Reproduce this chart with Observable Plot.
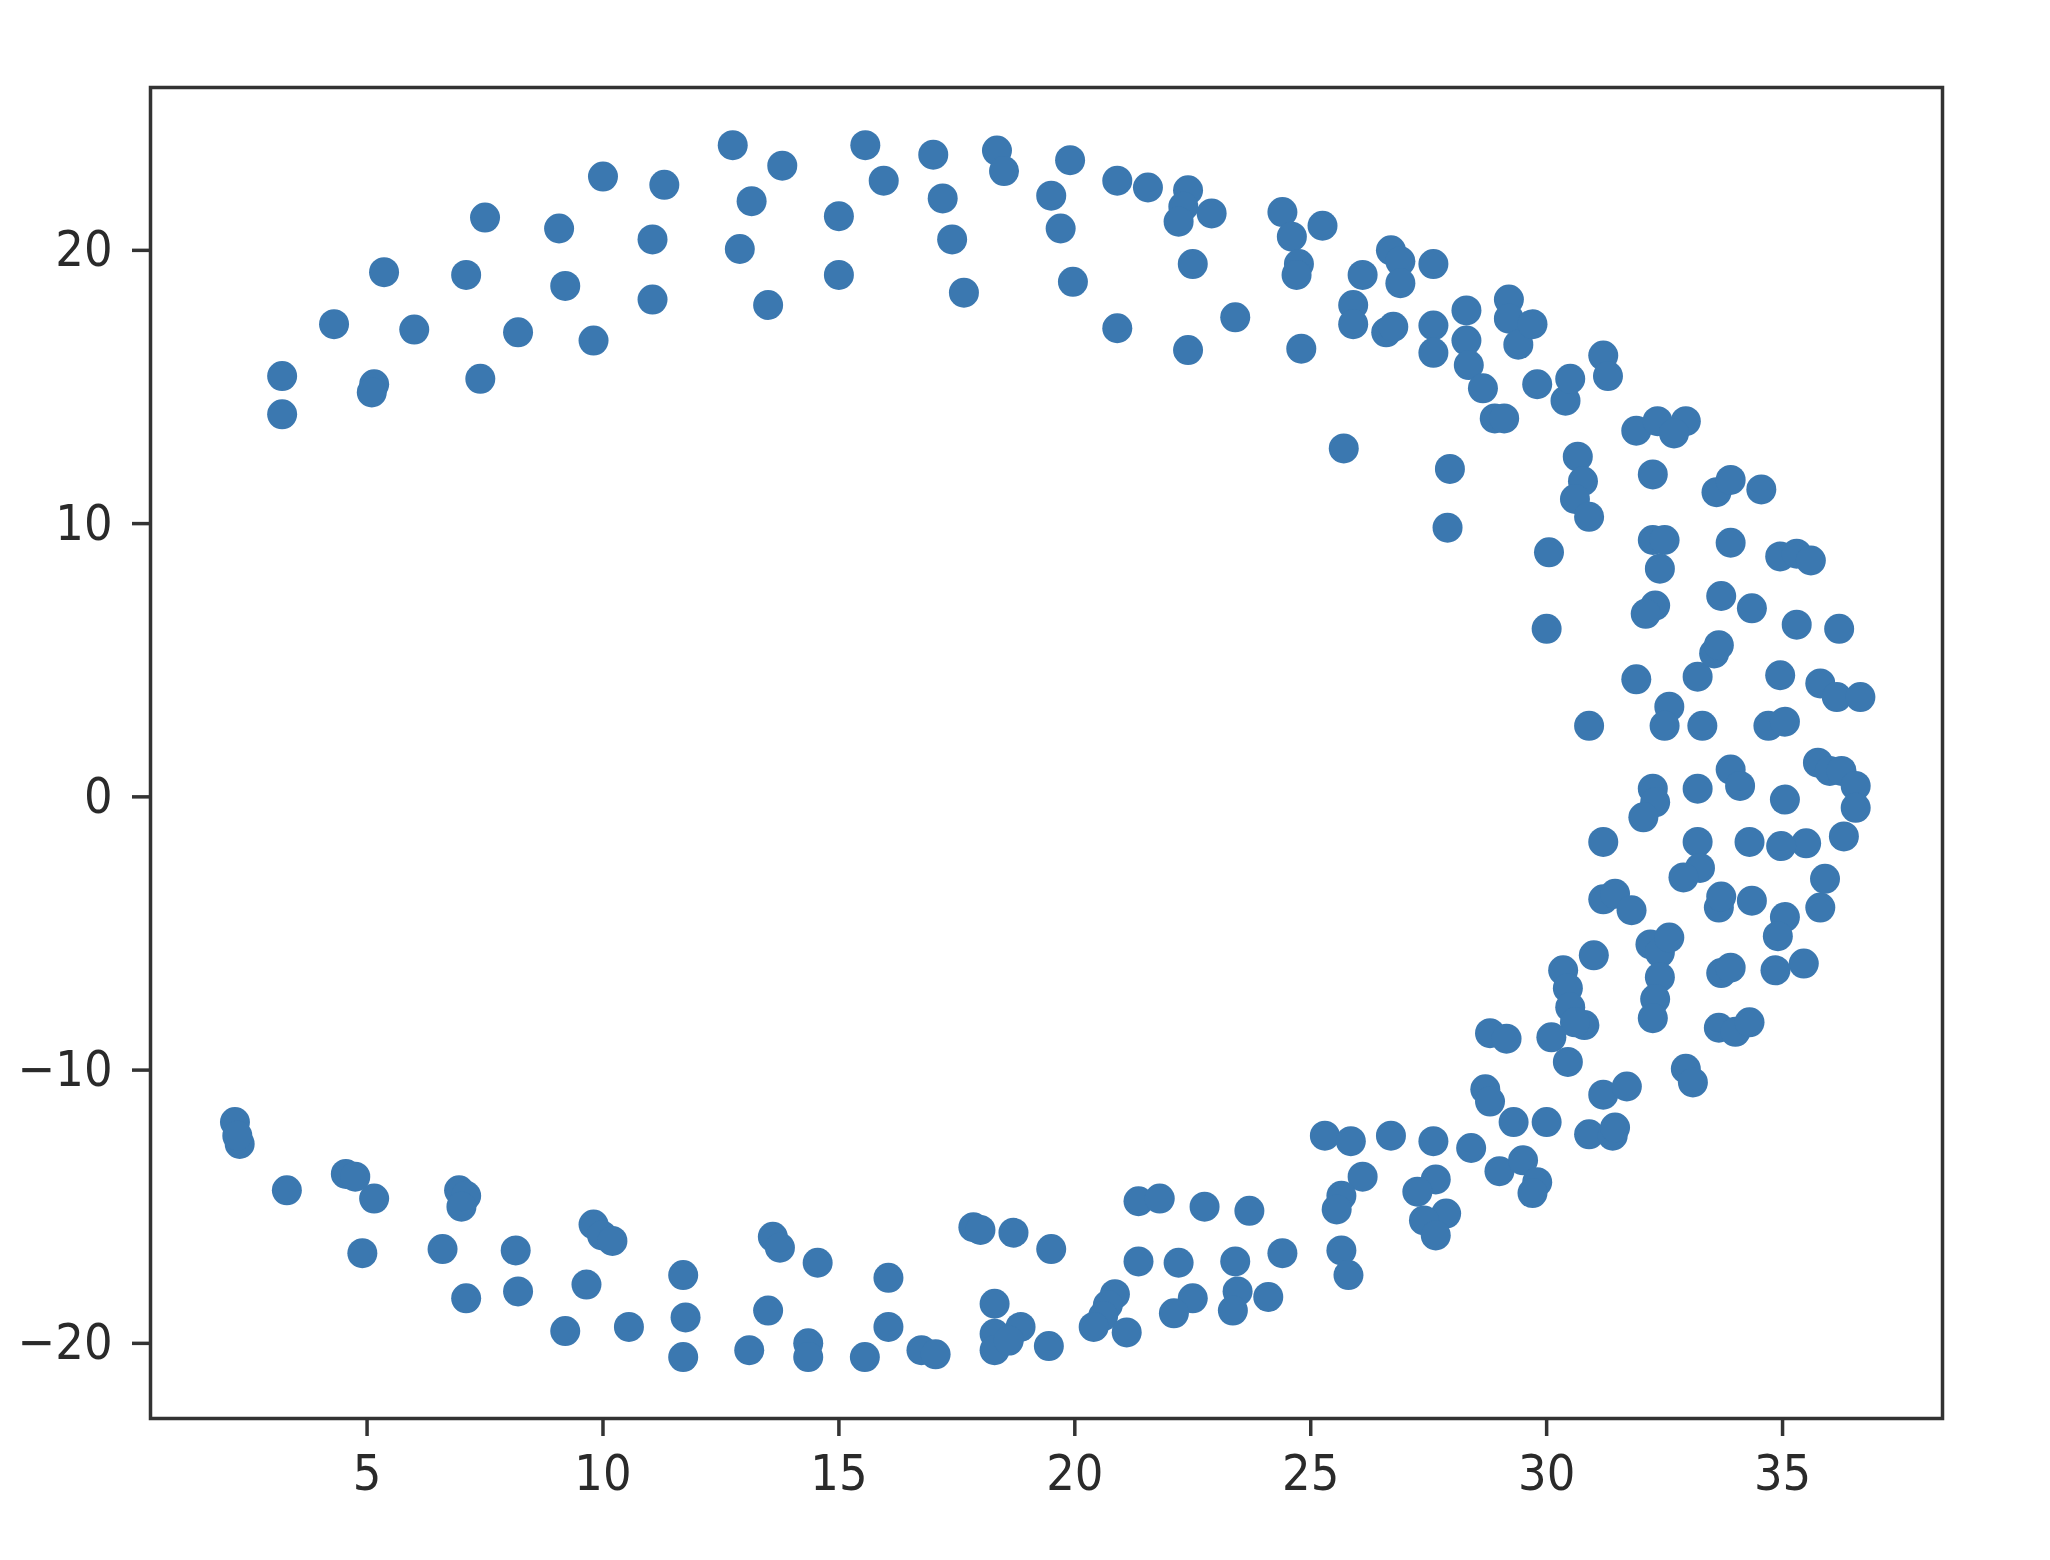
<!DOCTYPE html>
<html><head><meta charset="utf-8">
<script src="https://cdn.jsdelivr.net/npm/d3@7"></script>
<script src="https://cdn.jsdelivr.net/npm/@observablehq/plot@0.6"></script>
<style>html,body{margin:0;padding:0;background:#fff;overflow:hidden}
svg text{font-stretch:condensed}</style>
</head><body><div id="chart"></div>
<script>
// Upper arc
const upperX = [3.2,3.2,4.3,5.36,5.15,5.1,6.0,7.1,7.5,7.4,8.2,9.07,9.2,9.8,10.0,11.05,11.05,11.3,12.75,12.9,13.15,13.5,13.8,15.0,15.0,15.56,15.95,17.0,17.2,17.4,17.65,18.35,18.5,19.5,19.7,19.9,19.96,20.9,20.9,21.55,22.4,22.3,22.2,22.9,22.5,22.4,23.4,24.4,24.6,24.75,24.7,25.25,24.8,25.7,26.1,25.9,25.9,26.7,26.9,26.9,26.6,26.75,27.6,27.6,27.6,28.3,28.3,28.35,28.65,28.9,29.1,29.2,29.2,29.4,29.7,29.8,30.4,30.5,27.95,27.9,31.2,31.3];
const upperY = [15.4,14.0,17.3,19.2,15.1,14.8,17.1,19.1,21.2,15.3,17.0,20.8,18.7,16.7,22.7,20.4,18.2,22.4,23.85,20.05,21.8,18.0,23.1,21.25,19.1,23.85,22.55,23.5,21.9,20.4,18.45,23.65,22.9,22.0,20.8,23.3,18.85,22.55,17.15,22.3,22.2,21.6,21.05,21.35,19.5,16.35,17.55,21.4,20.5,19.5,19.1,20.9,16.4,12.75,19.1,18.0,17.3,20.0,19.6,18.8,17.0,17.2,19.5,17.25,16.25,17.8,16.7,15.8,14.95,13.85,13.85,18.2,17.5,16.55,17.3,15.1,14.5,15.3,12.0,9.85,16.15,15.4];

// Right band
const rightX = [30.05,30.0,30.66,30.77,30.6,30.9,30.9,31.9,32.35,32.95,32.7,32.25,32.25,32.5,32.4,32.3,32.1,31.9,32.6,32.5,33.3,33.2,33.55,33.65,33.7,33.9,33.6,33.9,34.55,34.35,34.95,35.3,35.6,35.3,36.2,34.95,35.8,36.15,36.65,34.7,35.05,35.05,35.75,36.0,36.25,36.55,36.55,36.3,35.5,34.97,34.3,33.9,34.1,33.2,32.25,32.3,32.05,31.2,33.2,33.25,32.9,31.2,31.45,31.8,33.65,33.7,34.35,35.8,35.9,35.05,34.9,35.45,34.85,31.0,32.2,32.4,32.6,32.4,32.3,32.25,33.7,33.9,33.65,34.0,34.3,30.35,30.45,30.5,30.8,30.6,30.1,30.45,28.8,29.15,28.7,28.8,29.3,30.0,31.2,31.7,30.9,31.4,31.45,32.95,33.1];
const rightY = [8.95,6.15,12.45,11.55,10.9,10.25,2.6,13.4,13.75,13.75,13.3,11.8,9.4,9.4,8.35,7.0,6.7,4.3,3.3,2.6,2.6,4.4,5.25,5.55,7.35,9.3,11.15,11.6,11.25,6.9,8.8,8.9,8.65,6.3,6.15,4.45,4.15,3.65,3.65,2.6,2.75,-0.1,1.25,0.95,0.95,0.4,-0.4,-1.45,-1.7,-1.8,-1.65,1.0,0.4,0.3,0.3,-0.2,-0.75,-1.65,-1.65,-2.6,-2.95,-3.75,-3.55,-4.15,-4.05,-3.65,-3.8,-4.05,-3.0,-4.4,-5.1,-6.1,-6.35,-5.8,-5.4,-5.7,-5.15,-6.6,-7.4,-8.1,-6.45,-6.25,-8.45,-8.6,-8.25,-6.35,-7.0,-7.7,-8.35,-8.25,-8.8,-9.7,-8.65,-8.85,-10.7,-11.15,-11.9,-11.9,-10.9,-10.6,-12.35,-12.4,-12.1,-9.95,-10.45];

// Lower arc
const lowerX = [25.3,25.85,26.7,27.6,28.4,29.0,29.5,29.8,29.7,26.1,25.65,25.55,27.65,27.26,27.87,27.4,27.65,25.65,25.8,24.4,24.1,23.45,23.35,23.7,22.75,23.4,22.2,22.5,22.1,21.35,21.8,21.35,20.85,20.7,20.6,20.4,21.1,19.5,18.7,17.85,18.0,18.3,18.3,18.3,18.85,18.6,19.45,16.75,17.05,16.05,16.05,15.55,14.55,14.35,14.35,13.6,13.75,13.5,13.1,11.7,11.75,11.7,10.55,9.8,9.98,10.2,9.65,9.2,8.15,8.2,7.1,6.6,6.95,7.1,7.0,5.15,4.55,4.75,4.9,3.3,2.2,2.3,2.25];
const lowerY = [-12.4,-12.6,-12.4,-12.6,-12.85,-13.7,-13.3,-14.1,-14.5,-13.9,-14.6,-15.1,-14.0,-14.45,-15.25,-15.5,-16.05,-16.6,-17.5,-16.7,-18.3,-18.1,-18.8,-15.15,-15.0,-17.0,-17.05,-18.35,-18.9,-14.8,-14.7,-17.0,-18.2,-18.6,-19.0,-19.4,-19.6,-16.55,-15.95,-15.75,-15.85,-18.55,-19.65,-20.25,-19.4,-19.9,-20.1,-20.25,-20.4,-19.4,-17.6,-20.5,-17.05,-20.0,-20.5,-16.1,-16.5,-18.8,-20.25,-17.5,-19.05,-20.5,-19.4,-15.65,-16.05,-16.25,-17.85,-19.55,-16.6,-18.1,-18.35,-16.55,-14.4,-14.6,-15.0,-14.7,-13.8,-13.9,-16.7,-14.4,-11.9,-12.7,-12.4];

const xTicks = [5, 10, 15, 20, 25, 30, 35];
const yTicks = [-20, -10, 0, 10, 20];

const points = [
  ...upperX.map((x, i) => ({x, y: upperY[i]})),
  ...rightX.map((x, i) => ({x, y: rightY[i]})),
  ...lowerX.map((x, i) => ({x, y: lowerY[i]}))
];

const fmt = d => d < 0 ? "\u2212" + Math.abs(d) : String(d);

const chart = Plot.plot({
  width: 2050,
  height: 1560,
  marginLeft: 150,
  marginRight: 108,
  marginTop: 87,
  marginBottom: 142,
  style: {fontFamily: "'DejaVu Sans Condensed', 'DejaVu Sans', sans-serif", background: "#fff"},
  x: {domain: [0.41, 38.39], label: null},
  y: {domain: [-22.75, 25.96], label: null},
  marks: [
    Plot.dot(points, {x: "x", y: "y", r: 15, fill: "#3b78b0", stroke: "none"}),
    Plot.frame({stroke: "#333", strokeWidth: 3.5}),
    Plot.axisX({ticks: xTicks, tickFormat: fmt, tickSize: 18, tickPadding: 18, fontSize: 50, stroke: "#333", strokeWidth: 3.5, fill: "#2a2a2a", label: null}),
    Plot.axisY({ticks: yTicks, tickFormat: fmt, tickSize: 18, tickPadding: 20, fontSize: 50, stroke: "#333", strokeWidth: 3.5, fill: "#2a2a2a", label: null})
  ]
});
document.getElementById("chart").appendChild(chart);
</script>
</body></html>
